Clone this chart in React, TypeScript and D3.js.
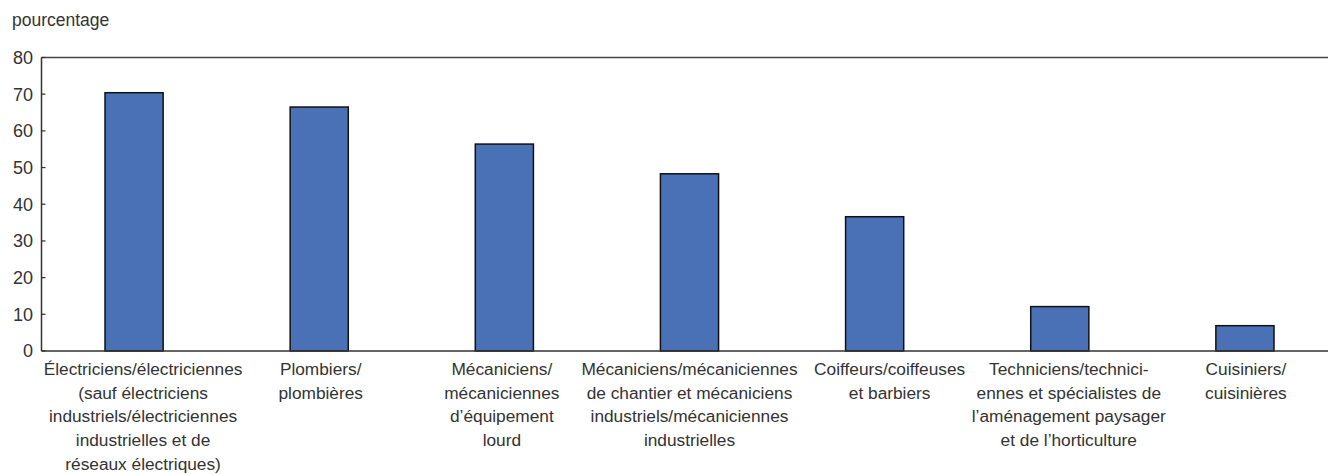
import React from "react";
import * as d3 from "d3";

const categories: string[][] = [
  ["Électriciens/électriciennes", "(sauf électriciens", "industriels/électriciennes", "industrielles et de", "réseaux électriques)"],
  ["Plombiers/", "plombières"],
  ["Mécaniciens/", "mécaniciennes", "d\u2019équipement", "lourd"],
  ["Mécaniciens/mécaniciennes", "de chantier et mécaniciens", "industriels/mécaniciennes", "industrielles"],
  ["Coiffeurs/coiffeuses", "et barbiers"],
  ["Techniciens/technici-", "ennes et spécialistes de", "l\u2019aménagement paysager", "et de l\u2019horticulture"],
  ["Cuisiniers/", "cuisinières"],
];
const values: number[] = [70.4, 66.5, 56.4, 48.3, 36.6, 12.1, 6.9];
const yTicks: number[] = [0, 10, 20, 30, 40, 50, 60, 70, 80];
const yLabel = "pourcentage";

// horizontal nudge of each category label (layout, px)
const labelShift: number[] = [9, 1.5, -2.5, 0, 15, 9, 1];

const W = 1328;
const H = 474;
const left = 41.5;
const top = 57.5;
const bottom = 351;
const FONT = "'Liberation Sans', Arial, sans-serif";

export default function App() {
  const idx = categories.map((_, i) => String(i));
  const x = d3.scaleBand<string>().domain(idx).range([left, 1337.5]).paddingInner(0.686).paddingOuter(0.343);
  const y = d3.scaleLinear().domain([0, 80]).range([bottom, top]);
  return (
    <svg width={W} height={H} style={{ position: "absolute", left: 0, top: 0, background: "#fff" }} fontFamily={FONT}>
      <text x={12} y={26} fontSize={17.5} fill="#333">{yLabel}</text>
      {values.map((v, i) => (
        <rect key={i} x={x(String(i))} y={y(v)} width={x.bandwidth()} height={y(0) - y(v)} fill="#4a71b6" stroke="#111" strokeWidth={1.5} />
      ))}
      <line x1={left} x2={W} y1={y(80)} y2={y(80)} stroke="#444" strokeWidth={1.5} />
      <line x1={left} x2={W} y1={y(0)} y2={y(0)} stroke="#333" strokeWidth={1.5} />
      <line x1={left} x2={left} y1={y(0)} y2={y(80)} stroke="#333" strokeWidth={1.5} />
      {yTicks.map((t) => (
        <g key={t}>
          <line x1={left} x2={left + 4} y1={y(t)} y2={y(t)} stroke="#333" strokeWidth={1.2} />
          <text x={33} y={y(t)} dy="0.36em" textAnchor="end" fontSize={18} fill="#333">{t}</text>
        </g>
      ))}
      {categories.map((lines, i) => {
        const cx = (x(String(i)) as number) + x.bandwidth() / 2 + labelShift[i];
        return (
          <text key={i} x={cx} y={375} textAnchor="middle" fontSize={17.3} fill="#333">
            {lines.map((l, j) => (
              <tspan key={j} x={cx} y={375 + j * 23.7}>{l}</tspan>
            ))}
          </text>
        );
      })}
    </svg>
  );
}
